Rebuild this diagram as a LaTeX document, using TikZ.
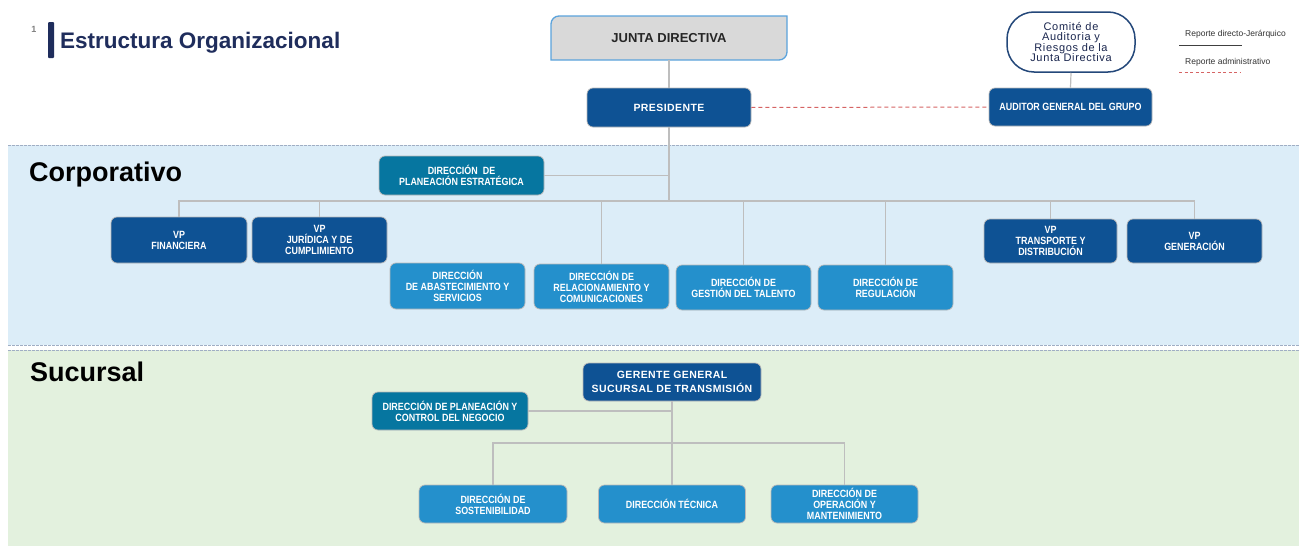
\documentclass[tikz,border=0pt]{standalone}
\usepackage{fontspec}
\setmainfont{Liberation Sans}
\newfontfamily\narrowfont[FakeStretch=0.85]{Liberation Sans}
\newfontfamily\spacedfont[LetterSpace=4]{Liberation Sans}
\newfontfamily\comitefont[LetterSpace=6]{Liberation Sans}
\definecolor{darkbox}{RGB}{14,82,148}
\definecolor{tealbox}{RGB}{6,118,160}
\definecolor{lightbox}{RGB}{36,144,204}
\definecolor{connc}{RGB}{190,190,190}
\definecolor{bandblue}{RGB}{220,237,248}
\definecolor{bandgreen}{RGB}{227,241,222}
\definecolor{navy}{RGB}{31,45,92}
\definecolor{comedge}{RGB}{36,72,122}
\definecolor{juntafill}{RGB}{217,217,217}
\definecolor{juntaedge}{RGB}{91,163,220}
\definecolor{dashred}{RGB}{214,100,100}
\definecolor{bandline}{RGB}{160,174,196}
\tikzset{
  box/.style={rectangle, rounded corners=6pt, draw=gray!55, line width=0.7pt,
    text=white, align=center, inner sep=2pt,
    font=\narrowfont\bfseries\fontsize{10.5}{11}\selectfont},
  darkb/.style={box, fill=darkbox},
  tealb/.style={box, fill=tealbox},
  lightb/.style={box, fill=lightbox},
  spaced/.style={font=\spacedfont\bfseries\fontsize{10.5}{13.5}\selectfont},
  connector/.style={draw=connc, line width=1.2pt},
  admin/.style={draw=dashred, line width=1pt, dash pattern=on 4pt off 3pt},
  bandedge/.style={draw=bandline, line width=1pt, dash pattern=on 3pt off 1pt},
  band/.style={font=\bfseries\fontsize{27}{27}\selectfont, anchor=base west, inner sep=0pt},
  legend/.style={anchor=west, inner sep=0pt, text=black!80, font=\fontsize{8.5}{8.5}\selectfont}
}
\begin{document}
\begin{tikzpicture}[x=1pt,y=-1pt]
\useasboundingbox (0,0) rectangle (1299,546);
\fill[white] (0,0) rectangle (1299,546);
% bands
\fill[bandblue] (8,145) rectangle (1299,345);
\fill[bandgreen] (8,350) rectangle (1299,546);
\draw[bandedge] (8,145) -- (1299,145);
\draw[bandedge] (8,345) -- (1299,345);
\draw[bandedge] (8,350) -- (1299,350);
\node[band] (corp) at (29,181) {Corporativo};
\node[band] (suc) at (30,381) {Sucursal};
% title
\node[text=gray, font=\bfseries\fontsize{9}{9}\selectfont, inner sep=0pt] (num) at (34,29) {1};
\fill[navy, rounded corners=1pt] (48,22) rectangle (54,58);
\node[anchor=base west, inner sep=0pt, text=navy, font=\bfseries\fontsize{22.5}{22.5}\selectfont] (title) at (60,48) {Estructura Organizacional};
% junta
\draw[fill=juntafill, draw=juntaedge, line width=1.3pt] (551,60) -- (551,24) arc[start angle=180, end angle=90, radius=8pt] -- (787,16) -- (787,52) arc[start angle=0, end angle=-90, radius=8pt] -- cycle;
\node[minimum width=236pt, minimum height=44pt, inner sep=0pt, text=black!85, font=\bfseries\fontsize{13}{13}\selectfont] (junta) at (669,38) {JUNTA DIRECTIVA};
% top level
\node[darkb, spaced, minimum width=164pt, minimum height=39pt] (pres) at (669,107.5) {PRESIDENTE};
\node[darkb, minimum width=163pt, minimum height=38pt] (aud) at (1070.5,107) {AUDITOR GENERAL DEL GRUPO};
\node[rectangle, rounded corners=27pt, draw=comedge, line width=1.5pt, fill=white, minimum width=128pt, minimum height=60pt, align=center, inner sep=0pt, text=navy!85!black, font=\comitefont\fontsize{11}{10.5}\selectfont] (com) at (1071,42) {Comité de\\Auditoria y\\Riesgos de la\\Junta Directiva};
% legend
\node[legend] (leg1) at (1185,34) {Reporte directo-Jerárquico};
\node[legend] (leg2) at (1185,62) {Reporte administrativo};
\coordinate (l1a) at (1179,45); \coordinate (l1b) at (1242,45);
\coordinate (l2a) at (1179,72); \coordinate (l2b) at (1240,72);
\draw[black!75, line width=0.9pt] (l1a) -- (l1b);
\draw[admin, dash pattern=on 3pt off 2.5pt] (l2a) -- (l2b);
% corporativo
\node[tealb, minimum width=165pt, minimum height=39pt] (pe) at (461.5,175.5) {DIRECCIÓN\ \ DE\\PLANEACIÓN ESTRATÉGICA};
\node[darkb, minimum width=136pt, minimum height=46pt] (vpfin) at (179,240) {VP\\FINANCIERA};
\node[darkb, minimum width=135pt, minimum height=46pt] (vpjur) at (319.5,240) {VP\\JURÍDICA Y DE\\CUMPLIMIENTO};
\node[lightb, minimum width=135pt, minimum height=46pt] (abast) at (457.5,286) {DIRECCIÓN\\DE ABASTECIMIENTO Y\\SERVICIOS};
\node[lightb, minimum width=135pt, minimum height=45pt] (relac) at (601.5,286.5) {DIRECCIÓN DE\\RELACIONAMIENTO Y\\COMUNICACIONES};
\node[lightb, minimum width=135pt, minimum height=45pt] (gest) at (743.5,287.5) {DIRECCIÓN DE\\GESTIÓN DEL TALENTO};
\node[lightb, minimum width=135pt, minimum height=45pt] (regul) at (885.5,287.5) {DIRECCIÓN DE\\REGULACIÓN};
\node[darkb, minimum width=133pt, minimum height=44pt] (vptr) at (1050.5,241) {VP\\TRANSPORTE Y\\DISTRIBUCIÓN};
\node[darkb, minimum width=135pt, minimum height=44pt] (vpgen) at (1194.5,241) {VP\\GENERACIÓN};
% sucursal
\node[darkb, spaced, minimum width=178pt, minimum height=38pt] (ger) at (672,382) {GERENTE GENERAL\\SUCURSAL DE TRANSMISIÓN};
\node[tealb, minimum width=156pt, minimum height=38pt] (pc) at (450,411) {DIRECCIÓN DE PLANEACIÓN Y\\CONTROL DEL NEGOCIO};
\node[lightb, minimum width=148pt, minimum height=38pt] (sost) at (493,504) {DIRECCIÓN DE\\SOSTENIBILIDAD};
\node[lightb, minimum width=147pt, minimum height=38pt] (tec) at (672,504) {DIRECCIÓN TÉCNICA};
\node[lightb, minimum width=147pt, minimum height=38pt] (oper) at (844.5,504) {DIRECCIÓN DE\\OPERACIÓN Y\\MANTENIMIENTO};
% connectors
\coordinate (busC) at (669,201);
\coordinate (sbus) at (672,443);
\draw[connector] (junta.south) -- (pres.north);
\draw[connector] (pres.south) -- (busC);
\draw[connector] (pe.east) -- (pe.east -| busC);
\draw[connector] (vpfin.north) -- (vpfin.north |- busC) -- (vpgen.north |- busC) -- (vpgen.north);
\foreach \n in {vpjur, relac, gest, regul, vptr}
  \draw[connector] (\n.north) -- (\n.north |- busC);
\draw[connector] (com.south) -- (aud.north);
\draw[admin] (pres.east) -- (aud.west);
\draw[connector] (ger.south) -- (tec.north);
\draw[connector] (pc.east) -- (pc.east -| sbus);
\draw[connector] (sost.north) -- (sost.north |- sbus) -- (oper.north |- sbus) -- (oper.north);
\end{tikzpicture}
\end{document}
